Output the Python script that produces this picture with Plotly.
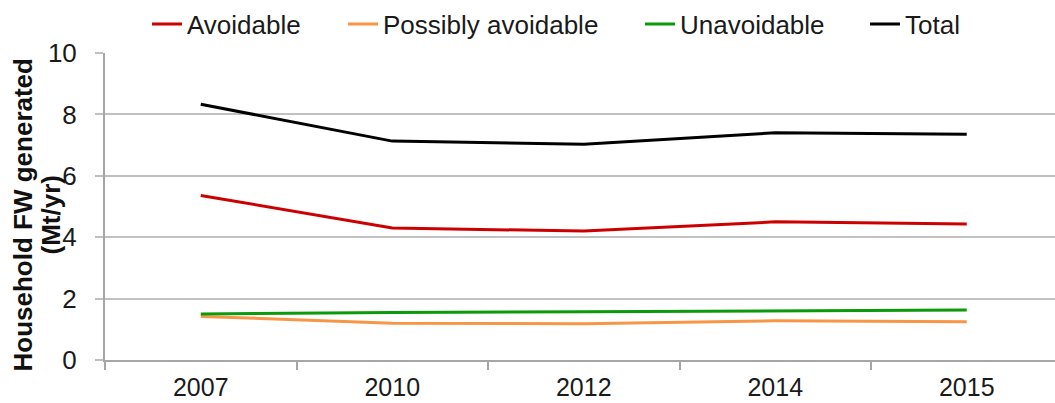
import plotly.graph_objects as go

# Household food waste by year (Mt/yr)
years = ["2007", "2010", "2012", "2014", "2015"]
avoidable = [5.36, 4.30, 4.20, 4.50, 4.43]
possibly_avoidable = [1.42, 1.20, 1.18, 1.28, 1.25]
unavoidable = [1.50, 1.55, 1.57, 1.60, 1.63]
total = [8.33, 7.13, 7.03, 7.40, 7.35]

series = [
    ("Avoidable", avoidable, "#cc0000"),
    ("Possibly avoidable", possibly_avoidable, "#f79646"),
    ("Unavoidable", unavoidable, "#0a9a0a"),
    ("Total", total, "#000000"),
]

W, H = 1055, 403
ML, MR, MT, MB = 105, 0, 53, 43
plot_w = W - ML - MR
cat_px = 191.5  # width of one category slot in pixels

font_family = "Liberation Sans, Arial, sans-serif"
grid_col = "#c0c0c0"
axis_col = "#a6a6a6"
text_col = "#1a1a1a"

# Each series gets its own legend box so the entries can be spaced freely
legend_text_x = [187, 383, 680, 905]
legend_ids = ["legend", "legend2", "legend3", "legend4"]

fig = go.Figure()
for (name, vals, color), lid in zip(series, legend_ids):
    fig.add_trace(go.Scatter(
        x=years, y=vals, name=name, mode="lines",
        line=dict(color=color, width=3), legend=lid,
    ))

legend_layout = {}
for lid, tx in zip(legend_ids, legend_text_x):
    legend_layout[lid] = dict(
        orientation="h", xref="container", yref="container",
        x=(tx - 40) / W, xanchor="left",
        y=1 - 24 / H, yanchor="middle",
        font=dict(family=font_family, size=26, color=text_col),
        itemwidth=30, bgcolor="rgba(0,0,0,0)", borderwidth=0,
    )

fig.update_layout(
    width=W, height=H,
    margin=dict(l=ML, r=MR, t=MT, b=MB, pad=0, autoexpand=False),
    paper_bgcolor="white", plot_bgcolor="white",
    font=dict(family=font_family, size=26, color=text_col),
    showlegend=True,
    xaxis=dict(
        type="category", range=[-0.5, -0.5 + plot_w / cat_px],
        showgrid=False, showline=True, linecolor=axis_col, linewidth=2,
        ticks="outside", tickson="boundaries", ticklen=8, tickwidth=2,
        tickcolor=axis_col, zeroline=False, fixedrange=True,
        tickfont=dict(size=25), ticklabelstandoff=4, automargin=False,
    ),
    yaxis=dict(
        range=[0, 10], dtick=2, showgrid=True, gridcolor=grid_col, gridwidth=2,
        showline=True, linecolor=axis_col, linewidth=2,
        ticks="outside", ticklen=8, tickwidth=2, tickcolor=grid_col,
        ticklabelstandoff=13, zeroline=False, fixedrange=True,
        automargin=False,
    ),
    **legend_layout,
)

# Two-line rotated y-axis title
title_lines = [("Household FW generated", 22), ("(Mt/yr)", 50)]
for text, px in title_lines:
    fig.add_annotation(
        text=f"<b>{text}</b>", textangle=-90, showarrow=False,
        xref="paper", yref="paper", x=0, y=0.5,
        xanchor="center", yanchor="middle",
        xshift=px - ML, yshift=-9,
        font=dict(family=font_family, size=26, color="#111111"),
    )

fig.write_html("out.html")
